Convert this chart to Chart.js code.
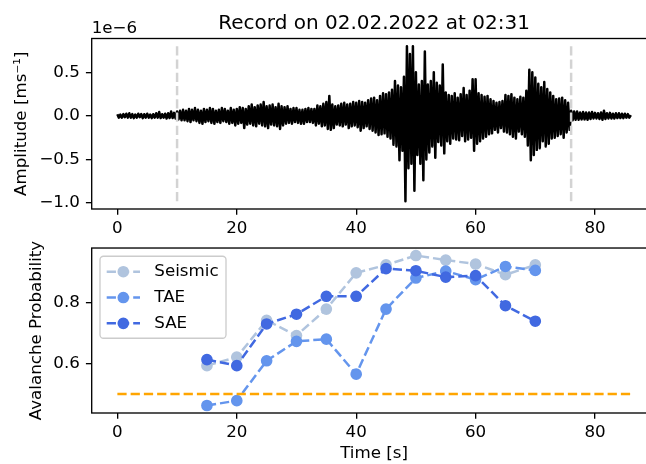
<!DOCTYPE html>
<html>
<head>
<meta charset="utf-8">
<script src="https://cdn.jsdelivr.net/npm/chart.js@4.4.0/dist/chart.umd.min.js"></script>
<style>
  html, body { margin: 0; padding: 0; background: #fff; overflow: hidden; }
  #wrap { position: relative; width: 646px; height: 464px; overflow: hidden; }
  canvas { position: absolute; left: 0; }
  #waveChart { top: 0; }
  #probChart { top: 232px; }
</style>
</head>
<body>
<div id="wrap">
  <canvas id="waveChart" width="700" height="242"></canvas>
  <canvas id="probChart" width="700" height="232"></canvas>
</div>
<script>
// waveform: one sample every 0.25 s, units of 1e-6 m/s
const waveDt = 0.25;
const waveAmp = [
  .02,-.02,.015,-.02,  .02,-.015,.025,-.02,  .03,-.02,.02,-.025,  .015,-.02,.025,-.015,  // 0-3
  .02,-.025,.02,-.02,  .025,-.02,.015,-.025,  .02,-.02,.03,-.02,  .045,-.025,.02,-.02,   // 4-7
  .025,-.03,.03,-.025,  .05,-.025,.035,-.03,  .05,-.04,.06,-.05,  .07,-.05,.06,-.06,     // 8-11
  .08,-.07,.07,-.05,  .09,-.06,.07,-.08,  .06,-.09,.08,-.07,  .07,-.06,.09,-.08,  // 12-15
  .08,-.09,.06,-.07,  .07,-.08,.09,-.06,  .08,-.07,.06,-.09,  .09,-.08,.07,-.11,  // 16-19
  .08,-.09,.10,-.08,  .09,-.14,.08,-.10,  .11,-.09,.13,-.11,  .10,-.12,.12,-.09,  // 20-23
  .13,-.11,.16,-.12,  .11,-.14,.12,-.10,  .13,-.11,.10,-.12,  .14,-.15,.11,-.11,  // 24-27
  .10,-.09,.11,-.08,  .08,-.09,.09,-.07,  .09,-.08,.07,-.09,  .07,-.09,.08,-.07,  // 28-31
  .09,-.07,.08,-.08,  .08,-.11,.12,-.09,  .11,-.12,.14,-.11,  .16,-.15,.23,-.16,  // 32-35
  .13,-.14,.11,-.10,  .12,-.11,.14,-.12,  .15,-.10,.13,-.14,  .14,-.12,.16,-.11,  // 36-39
  .15,-.13,.17,-.17,  .16,-.14,.15,-.12,  .18,-.15,.20,-.17,  .21,-.19,.18,-.22,  // 40-43
  .23,-.21,.26,-.20,  .25,-.24,.27,-.26,  .30,-.33,.40,-.35,  .35,-.51,.33,-.40,  // 44-47
  .45,-.98,.80,-.60,  .71,-.55,.80,-.86,  .50,-.45,.36,-.55,  .40,-.74,.74,-.50,  // 48-51
  .36,-.42,.40,-.35,  .50,-.48,.38,-.30,  .35,-.34,.59,-.43,  .27,-.29,.24,-.32,  // 52-55
  .23,-.26,.26,-.27,  .21,-.28,.25,-.23,  .32,-.29,.24,-.27,  .29,-.25,.42,-.40,  // 56-59
  .42,-.32,.26,-.29,  .24,-.26,.22,-.24,  .23,-.21,.19,-.20,  .17,-.16,.15,-.19,  // 60-63
  .16,-.14,.17,-.18,  .24,-.19,.23,-.21,  .25,-.24,.21,-.26,  .19,-.18,.22,-.21,  // 64-67
  .21,-.24,.29,-.34,  .53,-.51,.50,-.45,  .44,-.39,.37,-.37,  .33,-.29,.39,-.35,  // 68-71
  .31,-.32,.27,-.26,  .23,-.25,.19,-.23,  .20,-.21,.21,-.25,  .18,-.19,.15,-.16,  // 72-75
  .06,-.05,.05,-.045,  .05,-.045,.04,-.04,  .045,-.04,.04,-.045,  .04,-.035,.045,-.03,  // 76-79
  .035,-.03,.03,-.035,  .04,-.045,.06,-.035,  .03,-.03,.035,-.03,  .025,-.03,.03,-.025,  // 80-83
  .03,-.025,.025,-.025,  .025,-.02,.02,-.02,  .01                                          // 84-86
];
const pickTimes = [10, 76];

const probTimes   = [15, 20, 25, 30, 35, 40, 45, 50, 55, 60, 65, 70];
const seismicProb = [0.593, 0.621, 0.742, 0.692, 0.779, 0.898, 0.924, 0.955, 0.940, 0.927, 0.892, 0.924];
const taeProb     = [0.462, 0.478, 0.609, 0.673, 0.680, 0.565, 0.779, 0.881, 0.904, 0.876, 0.919, 0.906];
const saeProb     = [0.613, 0.593, 0.730, 0.762, 0.821, 0.821, 0.912, 0.905, 0.884, 0.889, 0.790, 0.739];
const threshold = 0.5;
const thresholdSpan = [0, 86];

const timeTicks = [0, 20, 40, 60, 80];
const ampTicks = [-1.0, -0.5, 0.0, 0.5];
const probTicks = [0.6, 0.8];

const titleText = 'Record on 02.02.2022 at 02:31';
const offsetText = '1e\u22126';

const FONT = 'DejaVu Sans';
const PX = 16.7;
Chart.defaults.font.family = FONT;
Chart.defaults.font.size = PX;
Chart.defaults.color = '#000';
Chart.defaults.animation = false;

// matplotlib-style margins (5% of the data range)
function padRange(vals) {
  const lo = Math.min(...vals), hi = Math.max(...vals), m = (hi - lo) * 0.05;
  return [lo - m, hi + m];
}
const waveTimes = waveAmp.map((v, i) => i * waveDt);
const [xMin, xMax] = padRange(waveTimes);
const [ampMin, ampMax] = padRange(waveAmp);
const [probMin, probMax] = padRange([...seismicProb, ...taeProb, ...saeProb]);

const fmt1 = v => v.toFixed(1).replace('-', '\u2212');
const DASH = [9.25, 4];

const framePlugin = {
  id: 'frame',
  afterDatasetsDraw(chart) {
    const {ctx, chartArea: a} = chart;
    ctx.save();
    ctx.strokeStyle = '#000';
    ctx.lineWidth = 1.33;
    ctx.strokeRect(a.left, a.top, a.right - a.left, a.bottom - a.top);
    ctx.restore();
  }
};

const headerPlugin = {
  id: 'header',
  afterDraw(chart) {
    const {ctx, chartArea: a} = chart;
    ctx.save();
    ctx.fillStyle = '#000';
    ctx.textBaseline = 'alphabetic';
    ctx.font = '20px "' + FONT + '"';
    ctx.textAlign = 'center';
    ctx.fillText(titleText, (a.left + a.right) / 2, a.top - 10);
    ctx.font = PX + 'px "' + FONT + '"';
    ctx.textAlign = 'left';
    ctx.fillText(offsetText, a.left, a.top - 5.2);
    ctx.restore();
  }
};

const legendPlugin = {
  id: 'insetLegend',
  afterDraw(chart) {
    const {ctx, chartArea: a} = chart;
    const items = chart.data.datasets.filter(d => d.label);
    const x = a.left + 8.3, y = a.top + 8.2, w = 126, h = 82;
    ctx.save();
    ctx.beginPath();
    ctx.roundRect(x, y, w, h, 3.5);
    ctx.fillStyle = 'rgba(255,255,255,0.8)';
    ctx.fill();
    ctx.strokeStyle = '#cccccc';
    ctx.lineWidth = 1.33;
    ctx.stroke();
    items.forEach((d, i) => {
      const cy = y + 15.5 + i * 25.8;
      ctx.strokeStyle = d.borderColor;
      ctx.lineWidth = d.borderWidth;
      ctx.setLineDash(d.borderDash);
      ctx.beginPath();
      ctx.moveTo(x + 6.7, cy);
      ctx.lineTo(x + 40, cy);
      ctx.stroke();
      ctx.setLineDash([]);
      ctx.beginPath();
      ctx.arc(x + 23.3, cy, d.pointRadius, 0, Math.PI * 2);
      ctx.fillStyle = d.pointBackgroundColor;
      ctx.fill();
      ctx.lineWidth = d.pointBorderWidth;
      ctx.stroke();
      ctx.fillStyle = '#000';
      ctx.font = PX + 'px "' + FONT + '"';
      ctx.textAlign = 'left';
      ctx.textBaseline = 'middle';
      ctx.fillText(d.label, x + 54.3, cy);
    });
    ctx.restore();
  }
};

const tickGrid = { drawOnChartArea: false, tickLength: 5.8, color: '#000', lineWidth: 1.33 };

function timeAxis(height, padding, title) {
  return {
    type: 'linear', min: xMin, max: xMax,
    afterBuildTicks: s => { s.ticks = timeTicks.map(v => ({value: v})); },
    afterFit: s => { s.height = height; },
    ticks: { callback: v => String(v), padding: padding, maxRotation: 0, autoSkip: false },
    grid: tickGrid,
    border: { display: false },
    title: title ? { display: true, text: title, padding: {top: 0, bottom: 0} } : { display: false }
  };
}

function valueAxis(min, max, ticks, title, titlePad) {
  return {
    min: min, max: max,
    afterBuildTicks: s => { s.ticks = ticks.map(v => ({value: v})); },
    afterFit: s => { s.width = 91.7; },
    ticks: { callback: v => fmt1(v), padding: 6 },
    grid: tickGrid,
    border: { display: false },
    title: { display: true, text: title, padding: {top: titlePad, bottom: 0} }
  };
}

new Chart(document.getElementById('waveChart'), {
  type: 'line',
  data: {
    datasets: [
      ...pickTimes.map(t => ({
        data: [{x: t, y: Math.min(...waveAmp)}, {x: t, y: Math.max(...waveAmp)}],
        borderColor: '#d3d3d3', borderWidth: 2.5, borderDash: DASH,
        pointRadius: 0, order: 1
      })),
      {
        data: waveAmp.map((v, i) => ({x: waveTimes[i], y: v})),
        borderColor: '#000', borderWidth: 2.5, borderJoinStyle: 'round',
        pointRadius: 0, tension: 0, order: 2
      }
    ]
  },
  options: {
    responsive: false,
    layout: { padding: {top: 38.5, left: 0, right: 700 - 656.5, bottom: 0} },
    plugins: { legend: { display: false }, tooltip: { enabled: false } },
    scales: {
      x: timeAxis(242 - 209, 4, null),
      y: valueAxis(ampMin, ampMax, ampTicks, 'Amplitude [ms\u207B\u00B9]', 12)
    }
  },
  plugins: [framePlugin, headerPlugin]
});

function probSeries(label, values, color, order) {
  return {
    label: label,
    data: values.map((v, i) => ({x: probTimes[i], y: v})),
    borderColor: color, borderWidth: 2.5, borderDash: DASH,
    pointRadius: 5, pointHoverRadius: 5, pointBackgroundColor: color, pointBorderColor: color,
    pointBorderWidth: 1.67, order: order
  };
}

new Chart(document.getElementById('probChart'), {
  type: 'line',
  data: {
    datasets: [
      probSeries('Seismic', seismicProb, '#b0c4de', 4),
      probSeries('TAE', taeProb, '#6495ed', 3),
      probSeries('SAE', saeProb, '#4169e1', 2),
      {
        data: thresholdSpan.map(t => ({x: t, y: threshold})),
        borderColor: '#ffa500', borderWidth: 2.5, borderDash: DASH,
        pointRadius: 0, order: 1
      }
    ]
  },
  options: {
    responsive: false,
    layout: { padding: {top: 10.5, left: 0, right: 700 - 656.5, bottom: 0} },
    plugins: { legend: { display: false }, tooltip: { enabled: false } },
    scales: {
      x: timeAxis(51, 4, 'Time [s]'),
      y: valueAxis(probMin, probMax, probTicks, 'Avalanche Probability', 27)
    }
  },
  plugins: [framePlugin, legendPlugin]
});
</script>
</body>
</html>
